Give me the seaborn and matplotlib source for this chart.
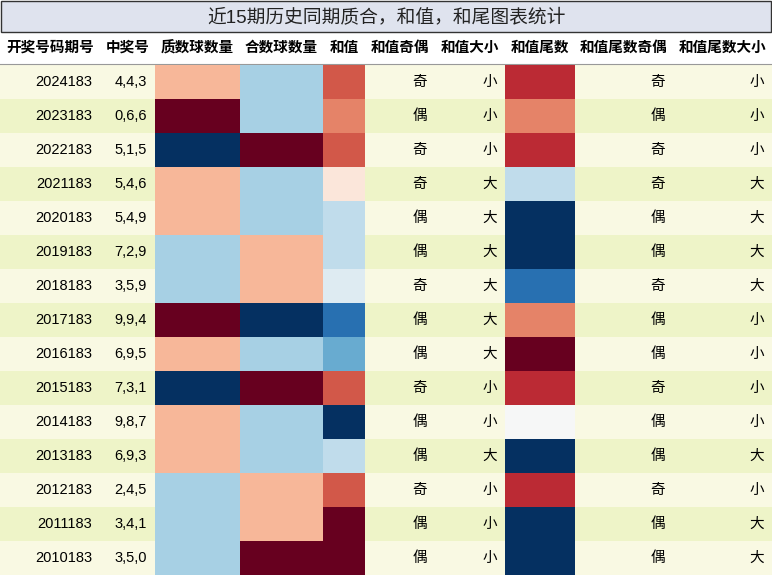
import numpy as np
import pandas as pd
import matplotlib.pyplot as plt
import seaborn as sns
from matplotlib.patches import Rectangle

plt.rcParams['font.family'] = ['Liberation Sans', 'Noto Sans CJK SC']

# 数据
periods = ['2024183', '2023183', '2022183', '2021183', '2020183', '2019183', '2018183', '2017183',
           '2016183', '2015183', '2014183', '2013183', '2012183', '2011183', '2010183']
numbers = ['4,4,3', '0,6,6', '5,1,5', '5,4,6', '5,4,9', '7,2,9', '3,5,9', '9,9,4',
           '6,9,5', '7,3,1', '9,8,7', '6,9,3', '2,4,5', '3,4,1', '3,5,0']
prime_cnt = [1, 0, 3, 1, 1, 2, 2, 0, 1, 3, 1, 1, 2, 2, 2]
comp_cnt = [2, 2, 0, 2, 2, 1, 1, 3, 2, 0, 2, 2, 1, 1, 0]
sums = [11, 12, 11, 15, 18, 18, 17, 22, 20, 11, 24, 18, 11, 8, 8]
sum_parity = list('奇偶奇奇偶偶奇偶偶奇偶偶奇偶偶')
sum_size = list('小小小大大大大大大小小大小小小')
tails = [1, 2, 1, 5, 8, 8, 7, 2, 0, 1, 4, 8, 1, 8, 8]
tail_parity = list('奇偶奇奇偶偶奇偶偶奇偶偶奇偶偶')
tail_size = list('小小小大大大大小小小小大小大大')
headers = ['开奖号码期号', '中奖号', '质数球数量', '合数球数量', '和值', '和值奇偶',
           '和值大小', '和值尾数', '和值尾数奇偶', '和值尾数大小']

W, H = 772, 576
edges = [0, 100, 155, 240, 323, 365, 435, 505, 575, 673, 772]
top, rh = 65, 34
n = len(periods)

fig = plt.figure(figsize=(W / 100, H / 100), dpi=100)
ax = fig.add_axes([0, 0, 1, 1])
ax.set_xlim(0, W)
ax.set_ylim(H, 0)
ax.axis('off')

# 标题
ax.add_patch(Rectangle((1, 1), W - 2, 31, facecolor='#dfe3ee', edgecolor='#333333', lw=1))
ax.text(W / 2, 17, '近15期历史同期质合，和值，和尾图表统计', ha='center', va='center',
        fontsize=13.5, color='#222222')
# 表头
for i, h in enumerate(headers):
    ax.text((edges[i] + edges[i + 1]) / 2, 48, h, ha='center', va='center',
            fontsize=10.5, fontweight='bold')
ax.plot([0, W], [64, 64], color='#999999', lw=0.8)

# 行背景
for r in range(n):
    ax.add_patch(Rectangle((0, top + r * rh), W, rh,
                           facecolor='#f9f9e3' if r % 2 == 0 else '#eef4c8', lw=0))

text_cols = {0: periods, 1: numbers, 5: sum_parity, 6: sum_size, 8: tail_parity, 9: tail_size}
for c, vals in text_cols.items():
    for r, v in enumerate(vals):
        ax.text(edges[c + 1] - 8, top + r * rh + rh / 2, v, ha='right', va='center', fontsize=10.5)

# 热力图列
heat_cols = {2: (prime_cnt, 0, 3), 3: (comp_cnt, 0, 3), 4: (sums, 8, 24), 7: (tails, 0, 8)}
cmap = plt.get_cmap('RdBu')
for c, (vals, lo, hi) in heat_cols.items():
    x0, x1 = edges[c], edges[c + 1]
    hax = fig.add_axes([x0 / W, 1 - (top + n * rh) / H, (x1 - x0) / W, n * rh / H])
    df = pd.DataFrame({'v': vals})
    sns.heatmap(df, ax=hax, cmap='RdBu', vmin=lo, vmax=hi, cbar=False,
                xticklabels=False, yticklabels=False)
    hax.axis('off')
    for r, v in enumerate(vals):
        rgb = cmap((v - lo) / (hi - lo))[:3]
        lum = 0.299 * rgb[0] + 0.587 * rgb[1] + 0.114 * rgb[2]
        ax.text(x1 - 8, top + r * rh + rh / 2, str(v), ha='right', va='center',
                fontsize=10.5, color='white' if lum < 0.5 else 'black', zorder=5)

fig.savefig('out.png', dpi=100)
